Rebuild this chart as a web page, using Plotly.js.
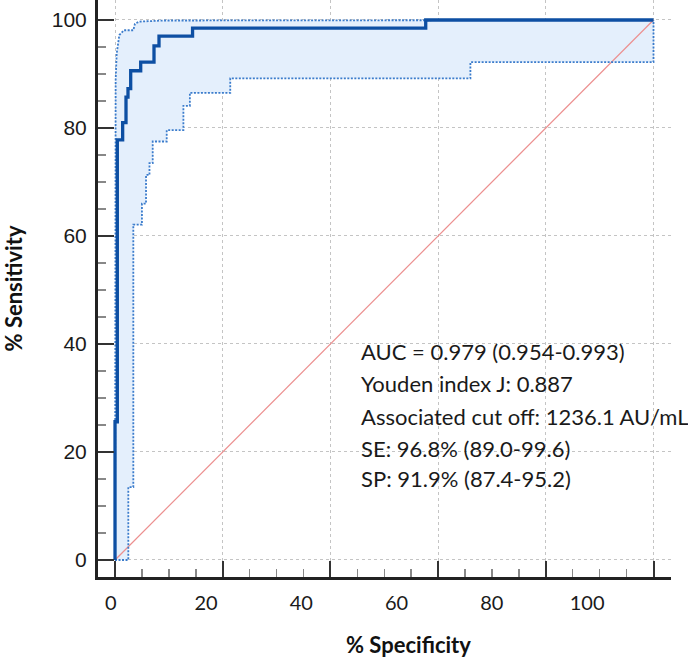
<!DOCTYPE html>
<html>
<head>
<meta charset="utf-8">
<script src="https://cdn.plot.ly/plotly-3.0.1.min.js"></script>
<style>
  html, body { margin: 0; padding: 0; background: #ffffff; }
  #chart { width: 688px; height: 661px; }
</style>
</head>
<body>
<div id="chart"></div>
<script>
// ---- Data (x = 100 - specificity, y = sensitivity) ----
// Main ROC curve, step corners (vertical then horizontal)
const rocX = [0, 0.43, 1.42, 2.04, 2.41, 2.91, 4.77, 7.24, 8.17, 14.4, 57.7, 100];
const rocY = [0, 25.6, 77.8, 81.0, 85.7, 87.3, 90.6, 92.2, 95.2, 97.0, 98.5, 100];

// Upper 95% confidence bound
const upperX = [0, 0, 0.12, 0.31, 0.62, 0.8, 1.67, 3.4, 3.7, 4.5, 9.0, 48.6, 48.6, 100];
const upperY = [0, 86, 88.9, 93.8, 96.3, 97.2, 98.1, 98.1, 99.3, 99.7, 99.9, 99.9, 100, 100];

// Lower 95% confidence bound, step corners (vertical then horizontal)
const lowerX = [0, 2.47, 3.4, 5.0, 5.76, 6.4, 7.0, 9.6, 12.7, 13.9, 21.4, 66.0, 100, 100];
const lowerY = [0, 0, 13.5, 62.1, 66.0, 71.3, 73.5, 77.5, 79.6, 84.1, 86.5, 89.2, 92.2, 100];

// Reference diagonal
const diagX = [0, 100];
const diagY = [0, 100];

// Axis ticks and labels
const gridVals = [0, 20, 40, 60, 80, 100];
const xTickLabels = ['0', '20', '40', '60', '80', '100'];
const yTickLabels = ['0', '20', '40', '60', '80', '100'];

// Text block
const statLines = [
  'AUC = 0.979 (0.954-0.993)',
  'Youden index J: 0.887',
  'Associated cut off: 1236.1 AU/mL',
  'SE: 96.8% (89.0-99.6)',
  'SP: 91.9% (87.4-95.2)'
];
const xTitle = '% Specificity';
const yTitle = '% Sensitivity';

// ---- Build the confidence band polygon from the arrays ----
function expandVH(xs, ys) {
  const ox = [xs[0]], oy = [ys[0]];
  for (let i = 1; i < xs.length; i++) {
    ox.push(xs[i - 1]); oy.push(ys[i]);
    ox.push(xs[i]); oy.push(ys[i]);
  }
  return [ox, oy];
}
const [lowX2, lowY2] = expandVH(lowerX, lowerY);
const bandX = upperX.concat(lowX2.slice().reverse());
const bandY = upperY.concat(lowY2.slice().reverse());

const lineBlue = '#0d4fa3';
const dotBlue = '#3b7ccc';

const traces = [
  { x: bandX, y: bandY, type: 'scatter', mode: 'lines', fill: 'toself',
    fillcolor: '#e4effc', line: { width: 0, color: 'rgba(0,0,0,0)' },
    hoverinfo: 'skip', showlegend: false },
  { x: diagX, y: diagY, type: 'scatter', mode: 'lines',
    line: { color: '#ec8f8f', width: 1.2 }, showlegend: false },
  { x: upperX, y: upperY, type: 'scatter', mode: 'lines',
    line: { color: dotBlue, width: 1.8, dash: '2px,1.5px' }, showlegend: false },
  { x: lowerX, y: lowerY, type: 'scatter', mode: 'lines',
    line: { color: dotBlue, width: 1.8, dash: '2px,1.5px', shape: 'vh' }, showlegend: false },
  { x: rocX, y: rocY, type: 'scatter', mode: 'lines',
    line: { color: lineBlue, width: 3.3, shape: 'vh' }, showlegend: false },
  { x: [], y: [], xaxis: 'x2', yaxis: 'y', type: 'scatter', mode: 'lines', showlegend: false }
];

const L = 98, R = 17, T = 0, B = 84;
const plotH = 661 - T - B;
const plotW = 688 - L - R;

const textPx = [351.7, 383.3, 416.7, 448.3, 478.3];
const annotations = statLines.map((s, i) => ({
  text: s, xref: 'paper', yref: 'paper',
  x: (359 - L) / plotW, y: 1 - (textPx[i] - T) / plotH,
  xanchor: 'left', yanchor: 'middle', showarrow: false,
  font: { family: 'Lato, sans-serif', size: 22, color: '#1a1a1a' }
}));
annotations.push({
  text: '<b>' + xTitle + '</b>', xref: 'paper', yref: 'paper',
  x: (408.7 - L) / plotW, y: 1 - (645 - T) / plotH,
  xanchor: 'center', yanchor: 'middle', showarrow: false,
  font: { family: 'Lato, sans-serif', size: 22, color: '#111' }
});

const layout = {
  width: 688, height: 661,
  margin: { l: L, r: R, t: T, b: B },
  paper_bgcolor: '#ffffff', plot_bgcolor: '#ffffff',
  showlegend: false,
  xaxis: {
    range: [-3.16, 103.25], tickmode: 'array', tickvals: gridVals,
    showticklabels: false,
    showgrid: true, gridcolor: '#c4c4c4', griddash: 'dot', gridwidth: 1,
    zeroline: false,
    showline: true, linecolor: '#222', linewidth: 3,
    ticks: 'inside', ticklen: 16, tickwidth: 2, tickcolor: '#333',
    minor: { dtick: 5, tick0: 0, ticks: 'inside', ticklen: 8, tickwidth: 1.5, tickcolor: '#888', showgrid: false }
  },
  xaxis2: {
    overlaying: 'x', anchor: 'y', side: 'bottom',
    range: [-2.67, 117.6], tickmode: 'array', tickvals: gridVals, ticktext: xTickLabels,
    showgrid: false, zeroline: false, showline: false, ticks: '',
    ticklabelstandoff: 12,
    tickfont: { family: 'Lato, sans-serif', size: 20, color: '#1a1a1a' }
  },
  yaxis: {
    range: [-3.15, 103.7], tickmode: 'array', tickvals: gridVals, ticktext: yTickLabels,
    showgrid: true, gridcolor: '#c4c4c4', griddash: 'dot', gridwidth: 1,
    zeroline: false,
    showline: true, linecolor: '#222', linewidth: 3,
    ticks: 'inside', ticklen: 16, tickwidth: 2, tickcolor: '#333',
    ticklabelstandoff: 4,
    tickfont: { family: 'Liberation Sans, Arial, sans-serif', size: 21, color: '#1a1a1a' },
    minor: { dtick: 5, tick0: 0, ticks: 'inside', ticklen: 8, tickwidth: 1.5, tickcolor: '#888', showgrid: false },
    title: { text: '<b>' + yTitle + '</b>', standoff: 26,
      font: { family: 'Lato, sans-serif', size: 22, color: '#111' } }
  },
  annotations: annotations
};

Plotly.newPlot('chart', traces, layout, { displayModeBar: false, staticPlot: true });
</script>
</body>
</html>
